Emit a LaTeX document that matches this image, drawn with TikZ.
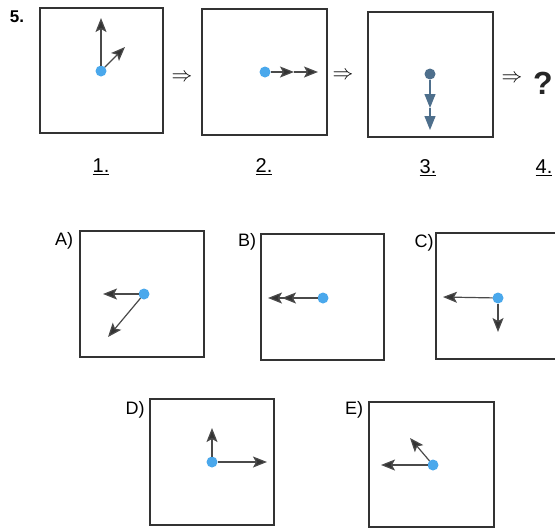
\documentclass[tikz,border=0pt]{standalone}
\usepackage{fontspec}
\setmainfont{Liberation Sans}
\usetikzlibrary{arrows.meta}
\definecolor{dotblue}{HTML}{4AA8EC}
\definecolor{steel}{HTML}{4E6F8C}
\definecolor{shaft}{HTML}{4A4A4A}
\definecolor{headc}{HTML}{333333}
\begin{document}
\begin{tikzpicture}[x=1pt,y=-1pt,
  frame/.style={draw=black!80, line width=1.1pt, inner sep=0pt, outer sep=0pt},
  dot/.style={circle, fill=dotblue, inner sep=0pt, minimum size=11pt, outer sep=0pt},
  sdot/.style={circle, fill=steel, inner sep=0pt, minimum size=11pt, outer sep=0pt},
  vec/.style={draw=shaft, line width=1.2pt, -{Stealth[length=14pt,width=11pt,inset=3pt,fill=headc]}},
  svec/.style={draw=steel, line width=1.2pt, -{Triangle[length=14pt,width=11pt,fill=steel]}},
  lab/.style={font=\fontsize{20}{22}\selectfont, inner sep=0pt},
  opt/.style={font=\fontsize{18}{20}\selectfont, inner sep=0pt},
  imp/.style={font=\fontsize{22}{24}\selectfont, inner sep=0pt}
]
\path[use as bounding box, clip] (0,0) rectangle (555,531);
\fill[white] (0,0) rectangle (555,531);

% top row boxes
\node[frame, minimum width=123pt, minimum height=125pt] (b1) at (101.5,70.5) {};
\node[frame, minimum width=125pt, minimum height=126pt] (b2) at (264.5,72) {};
\node[frame, minimum width=125pt, minimum height=125pt] (b3) at (430.5,74.5) {};

\node[font=\fontsize{17}{19}\selectfont\bfseries, inner sep=0pt] (n5) at (17,17) {5.};

% box 1
\node[dot] (d1) at (101,71) {};
\coordinate (e1a) at (101,18);
\coordinate (e1b) at (125,47);
\draw[vec] (d1) -- (e1a);
\draw[vec] (d1) -- (e1b);

% box 2
\node[dot] (d2) at (265,72) {};
\coordinate (m2) at (294,72);
\coordinate (e2) at (318,72);
\draw[vec] (d2) -- (m2);
\draw[vec] (m2) -- (e2);

% box 3
\node[sdot] (d3) at (430,74) {};
\coordinate (m3) at (430,108);
\coordinate (e3) at (430,130);
\draw[svec] (d3) -- (m3);
\draw[svec] (m3) -- (e3);

% implies arrows and question mark
\node[imp] (i1) at (182,78) {$\Rightarrow$};
\node[imp] (i2) at (343,76) {$\Rightarrow$};
\node[imp] (i3) at (512,79) {$\Rightarrow$};
\node[font=\fontsize{32}{34}\selectfont\bfseries, inner sep=0pt, text=black!85] (q) at (543,83) {?};

% step labels
\node[lab] (l1) at (101,167) {\underline{1.}};
\node[lab] (l2) at (264,167) {\underline{2.}};
\node[lab] (l3) at (428,168) {\underline{3.}};
\node[lab] (l4) at (544,168) {\underline{4.}};

% options
\node[frame, minimum width=124pt, minimum height=126pt] (bA) at (142,294) {};
\node[frame, minimum width=123pt, minimum height=126pt] (bB) at (322.5,297) {};
\node[frame, minimum width=124pt, minimum height=126pt] (bC) at (498,296) {};
\node[frame, minimum width=124pt, minimum height=126pt] (bD) at (212,462) {};
\node[frame, minimum width=125pt, minimum height=125pt] (bE) at (431.5,464.5) {};

\node[opt] (tA) at (64,241) {A)};
\node[opt] (tB) at (247,242) {B)};
\node[opt] (tC) at (424,243) {C)};
\node[opt] (tD) at (135,410) {D)};
\node[opt] (tE) at (354,410) {E)};

% A
\node[dot] (dA) at (144,294) {};
\coordinate (eAa) at (103,294);
\coordinate (eAb) at (108,337);
\draw[vec] (dA) -- (eAa);
\draw[vec] (dA) -- (eAb);

% B
\node[dot] (dB) at (323,298) {};
\coordinate (eB) at (268,298);
\draw[draw=shaft, line width=1.2pt, -{Stealth[length=14pt,width=11pt,inset=3pt,fill=headc]Stealth[length=14pt,width=11pt,inset=3pt,fill=headc]}] (dB) -- (eB);

% C
\node[dot] (dC) at (498,298) {};
\coordinate (eCa) at (443,297);
\coordinate (eCb) at (498,332);
\draw[vec] (dC) -- (eCa);
\draw[vec] (dC) -- (eCb);

% D
\node[dot] (dD) at (212,462) {};
\coordinate (eDa) at (212,428);
\coordinate (eDb) at (267,462);
\draw[vec] (dD) -- (eDa);
\draw[vec] (dD) -- (eDb);

% E
\node[dot] (dE) at (433,465) {};
\coordinate (eEa) at (381,465);
\coordinate (eEb) at (410,438);
\draw[vec] (dE) -- (eEa);
\draw[vec] (dE) -- (eEb);
\end{tikzpicture}
\end{document}
